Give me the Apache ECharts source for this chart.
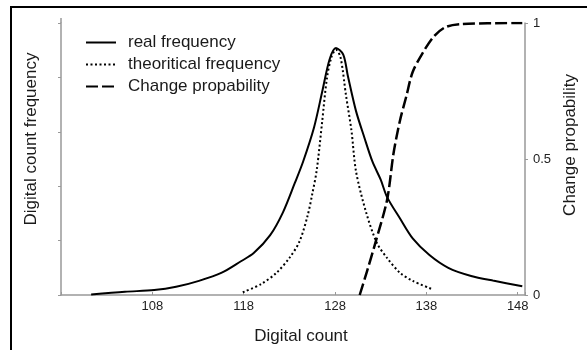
<!DOCTYPE html>
<html>
<head>
<meta charset="utf-8">
<script src="https://cdn.jsdelivr.net/npm/echarts@6/dist/echarts.min.js"></script>
<style>
  html, body { margin: 0; padding: 0; background: #fff; overflow: hidden; }
  #chart { width: 587px; height: 350px; }
</style>
</head>
<body>
<div id="chart"></div>
<script>
// digital count (x) / frequency (left axis units)
const realX = [101.3, 105.0, 108.2, 110.6, 113.1, 115.6, 117.7, 119.1, 120.9, 122.3, 123.6, 124.5, 125.7, 126.6, 127.4, 128.1,
  128.9, 129.4, 130.3, 131.2, 132.1, 133.0, 133.7, 135.1, 136.5, 138.3, 140.4, 142.9, 145.4, 148.5]
const realY = [0.01, 0.06, 0.09, 0.15, 0.26, 0.41, 0.62, 0.77, 1.10, 1.52, 2.06, 2.45, 3.08, 3.74, 4.33, 4.54,
  4.42, 4.03, 3.38, 2.90, 2.45, 2.12, 1.80, 1.41, 1.04, 0.74, 0.50, 0.35, 0.26, 0.16]

const theoX = [117.9, 119.9, 121.6, 123.0, 124.1, 125.0, 125.5, 126.0, 126.6, 127.1, 127.6, 128.1,
  128.6, 129.2, 129.8, 130.3, 131.4, 132.6, 133.7, 135.1, 136.5, 138.6]
const theoY = [0.05, 0.20, 0.41, 0.68, 0.98, 1.46, 1.85, 2.30, 3.20, 3.97, 4.37, 4.51,
  4.37, 3.67, 3.02, 2.27, 1.52, 0.95, 0.68, 0.41, 0.26, 0.11]

// change probability (right axis)
const probX = [130.7, 131.5, 132.4, 133.7, 134.4, 135.1, 135.8, 136.5, 137.6, 138.8, 140.1, 141.8, 148.5]
const probY = [0.0, 0.087, 0.19, 0.35, 0.52, 0.64, 0.73, 0.82, 0.89, 0.95, 0.985, 0.996, 1.0]

const xTickLabels = [108, 118, 128, 138, 148]
const seriesNames = ['real frequency', 'theoritical frequency', 'Change propability']

const zip = (xs, ys) => xs.map((x, i) => [x, ys[i]])

const FONT = "'Liberation Sans', Arial, sans-serif"
const axisGray = '#999'

const chart = echarts.init(document.getElementById('chart'))

const option = {
  animation: false,
  backgroundColor: '#fff',
  textStyle: { fontFamily: FONT, color: '#1a1a1a' },
  graphic: [
    // figure frame (only top + left edges are inside the picture)
    {
      type: 'rect',
      shape: { x: 11, y: 7, width: 700, height: 500 },
      style: { fill: 'none', stroke: '#000', lineWidth: 2 },
      silent: true
    },
    // left axis line runs a little past the top tick
    {
      type: 'line',
      shape: { x1: 61, y1: 18, x2: 61, y2: 23 },
      style: { stroke: axisGray, lineWidth: 1.5 },
      silent: true
    }
  ],
  legend: {
    orient: 'vertical',
    left: 80,
    top: 29,
    itemWidth: 30,
    itemHeight: 14,
    itemGap: 5,
    data: seriesNames,
    itemStyle: { opacity: 0 },
    textStyle: {
      fontFamily: FONT,
      fontSize: 17,
      lineHeight: 17,
      color: '#1a1a1a',
      padding: [0, 0, 0, 7]
    }
  },
  grid: {
    left: 61,
    right: 48,
    top: 23,
    bottom: 49,
    containLabel: false
  },
  xAxis: {
    type: 'value',
    min: 98,
    max: 148.8,
    interval: 10,
    name: 'Digital count',
    nameLocation: 'middle',
    nameGap: 33,
    nameTextStyle: { fontSize: 17, color: '#1a1a1a', fontFamily: FONT, padding: [0, 0, 0, 16] },
    axisLine: { lineStyle: { color: axisGray, width: 1.5 } },
    axisTick: { inside: true, length: 3, lineStyle: { color: axisGray } },
    axisLabel: {
      margin: 5,
      fontSize: 13,
      color: '#222',
      formatter: v => (xTickLabels.includes(v) ? String(v) : '')
    },
    splitLine: { show: false }
  },
  yAxis: [
    {
      type: 'value',
      min: 0,
      max: 5,
      interval: 1,
      name: 'Digital count frequency',
      nameLocation: 'middle',
      nameGap: 21,
      nameTextStyle: { fontSize: 17, color: '#1a1a1a', fontFamily: FONT, padding: [0, 0, 0, 40] },
      axisLine: { show: true, lineStyle: { color: axisGray, width: 1.5 } },
      axisTick: { show: true, length: 3, lineStyle: { color: axisGray } },
      axisLabel: { show: false },
      splitLine: { show: false }
    },
    {
      type: 'value',
      position: 'right',
      min: 0,
      max: 1,
      interval: 0.5,
      name: 'Change propability',
      nameLocation: 'middle',
      nameGap: 33,
      nameTextStyle: { fontSize: 17, color: '#1a1a1a', fontFamily: FONT, padding: [0, 0, 0, 28] },
      axisLine: { show: true, lineStyle: { color: axisGray, width: 1.5 } },
      axisTick: { show: true, length: 3, lineStyle: { color: axisGray } },
      axisLabel: { margin: 8, fontSize: 13, color: '#222' },
      splitLine: { show: false }
    }
  ],
  series: [
    {
      name: seriesNames[0],
      type: 'line',
      symbol: 'none',
      smooth: 0.3,
      data: zip(realX, realY),
      lineStyle: { color: '#000', width: 2 },
      itemStyle: { color: '#000' }
    },
    {
      name: seriesNames[1],
      type: 'line',
      symbol: 'none',
      smooth: 0.3,
      data: zip(theoX, theoY),
      lineStyle: { color: '#000', width: 2, type: [2, 2.5] },
      itemStyle: { color: '#000' }
    },
    {
      name: seriesNames[2],
      type: 'line',
      yAxisIndex: 1,
      symbol: 'none',
      smooth: 0.3,
      data: zip(probX, probY),
      lineStyle: { color: '#000', width: 2.5, type: [12, 4] },
      itemStyle: { color: '#000' }
    }
  ]
}

chart.setOption(option)
</script>
</body>
</html>
